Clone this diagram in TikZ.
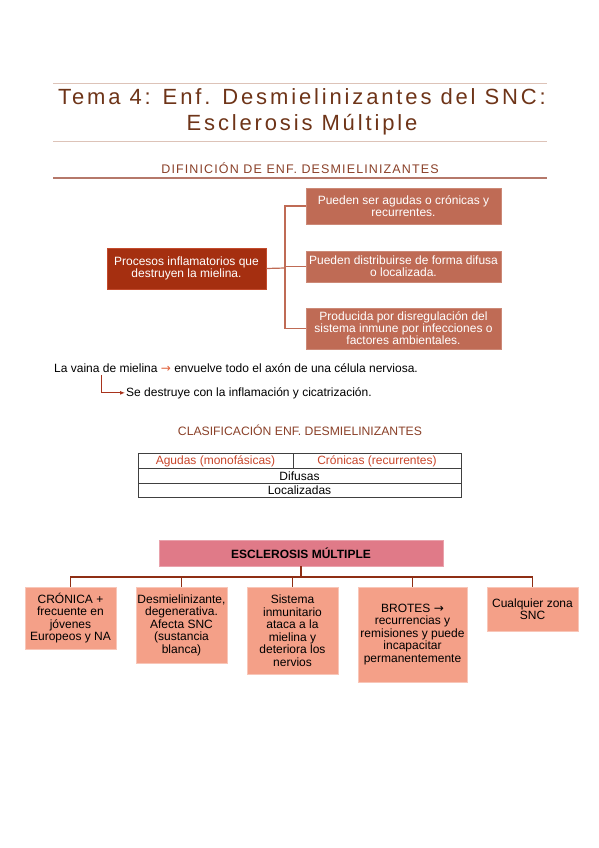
\documentclass[tikz,border=0pt]{standalone}
\usepackage{fontspec}
\setmainfont{Liberation Sans}
\newfontfamily\titlefont[LetterSpace=13]{Liberation Sans}
\newfontfamily\headfont[LetterSpace=9]{Liberation Sans}
\newfontfamily\symfont{DejaVu Sans}
\definecolor{titlebrown}{HTML}{6E3418}
\definecolor{headbrown}{HTML}{8A4028}
\definecolor{thinrule}{HTML}{DDC3B8}
\definecolor{thickrule}{HTML}{B5786A}
\definecolor{defdark}{HTML}{A52F10}
\definecolor{defedge}{HTML}{C24A2C}
\definecolor{defmid}{HTML}{BF6B55}
\definecolor{arrowred}{HTML}{E0603A}
\definecolor{elbowred}{HTML}{A8331C}
\definecolor{tabred}{HTML}{C8452A}
\definecolor{rootpink}{HTML}{E07A88}
\definecolor{leafsalmon}{HTML}{F4A088}
\definecolor{branchred}{HTML}{8E2E14}
\usetikzlibrary{arrows.meta}
\begin{document}
\begin{tikzpicture}[x=1pt, y=-1pt,
  thinline/.style={draw=thinrule, line width=0.8pt},
  defroot/.style={draw=defedge, fill=defdark, text=white, line width=1pt, align=center, inner sep=0pt, font=\fontsize{12}{12}\selectfont},
  defleaf/.style={draw=defmid!80!white, fill=defmid, text=white, align=center, inner sep=0pt, minimum width=195pt, font=\fontsize{12}{12}\selectfont},
  defedge/.style={draw=defmid, line width=1.2pt},
  heading/.style={text=headbrown, font=\fontsize{12.2}{14}\selectfont},
  body/.style={font=\fontsize{12}{13}\selectfont, inner sep=0pt},
  leaf/.style={draw=leafsalmon!60!white, fill=leafsalmon, align=center, inner sep=0pt, minimum width=91pt, font=\fontsize{12}{12.5}\selectfont},
  branch/.style={draw=branchred, line width=1.2pt}]
\useasboundingbox (0,0) rectangle (599,848);
% title
\draw[thinline] (53,83) -- (547,83);
\node[text=titlebrown, align=center, font=\titlefont\fontsize{22}{26}\selectfont] (title) at (302,112) {Tema 4: Enf. Desmielinizantes del SNC:\\Esclerosis Múltiple};
\draw[thinline] (53,141) -- (547,141);
% definicion
\node[heading, font=\headfont\fontsize{12.5}{14}\selectfont] (H_0) at (300,168) {DIFINICIÓN DE ENF. DESMIELINIZANTES};
\draw[draw=thickrule, line width=1.8pt] (53,178) -- (547,178);
\node[defroot, minimum width=159pt, minimum height=41pt] (D_0_0) at (186.5,268.5) {Procesos inflamatorios que\\destruyen la mielina.};
\node[defleaf, minimum height=36pt] (D_1_0) at (403.5,206) {Pueden ser agudas o crónicas y\\recurrentes.};
\node[defleaf, minimum height=31pt] (D_1_1) at (403.5,266.5) {Pueden distribuirse de forma difusa\\o localizada.};
\node[defleaf, minimum height=41pt] (D_1_2) at (403.5,328.5) {Producida por disregulación del\\sistema inmune por infecciones o\\factores ambientales.};
\coordinate (D_fork) at (285,268);
\draw[defedge] (D_0_0.east) -- (D_fork);
\draw[defedge] (D_fork) |- (D_1_0.west);
\draw[defedge] (D_fork) |- (D_1_1.west);
\draw[defedge] (D_fork) |- (D_1_2.west);
% vaina de mielina
\node[body, anchor=base west] (L_0) at (54,372) {La vaina de mielina {\color{arrowred}\symfont →} envuelve todo el axón de una célula nerviosa.};
\node[body, anchor=base west] (L_1) at (126,396) {Se destruye con la inflamación y cicatrización.};
\coordinate (L_bend) at (101,375);
\draw[draw=elbowred, line width=0.9pt, -{Latex[length=5pt,width=4pt]}] (L_bend) |- ([xshift=-1pt]L_1.west);
% clasificacion
\node[heading] (H_1) at (300,430) {CLASIFICACIÓN ENF. DESMIELINIZANTES};
\draw[line width=0.7pt, draw=black!75] (138,453) rectangle (461,497);
\draw[line width=0.7pt, draw=black!75] (138,468) -- (461,468);
\draw[line width=0.7pt, draw=black!75] (138,483) -- (461,483);
\draw[line width=0.7pt, draw=black!75] (293,453) -- (293,468);
\node[body, text=tabred] (T_0_0) at (215.5,461) {Agudas (monofásicas)};
\node[body, text=tabred] (T_0_1) at (377,461) {Crónicas (recurrentes)};
\node[body] (T_1_0) at (299.5,476) {Difusas};
\node[body] (T_2_0) at (299.5,490.5) {Localizadas};
% esclerosis multiple
\node[draw=rootpink!70!white, fill=rootpink, minimum width=284pt, minimum height=26pt, font=\bfseries\fontsize{12}{13}\selectfont] (E_0_0) at (301,553) {ESCLEROSIS MÚLTIPLE};
\node[leaf, minimum height=62pt] (E_1_0) at (70.5,618) {CRÓNICA +\\frecuente en\\jóvenes\\Europeos y NA};
\node[leaf, minimum height=76pt] (E_1_1) at (181.5,625) {Desmielinizante,\\degenerativa.\\Afecta SNC\\(sustancia\\blanca)};
\node[leaf, minimum height=87pt] (E_1_2) at (292.5,630.5) {Sistema\\inmunitario\\ataca a la\\mielina y\\deteriora los\\nervios};
\node[leaf, minimum width=109pt, minimum height=95pt] (E_1_3) at (412.5,634.5) {BROTES {\symfont →}\\recurrencias y\\remisiones y puede\\incapacitar\\permanentemente};
\node[leaf, minimum height=44pt] (E_1_4) at (532.5,609) {Cualquier zona\\SNC};
\coordinate (E_bar) at (301,577);
\draw[branch] (E_0_0.south) -- (E_bar);
\draw[branch] (E_1_0.north) |- (E_bar);
\draw[branch] (E_1_4.north) |- (E_bar);
\draw[branch] (E_1_1.north) -- (E_1_1.north |- E_bar);
\draw[branch] (E_1_2.north) -- (E_1_2.north |- E_bar);
\draw[branch] (E_1_3.north) -- (E_1_3.north |- E_bar);
\end{tikzpicture}
\end{document}
